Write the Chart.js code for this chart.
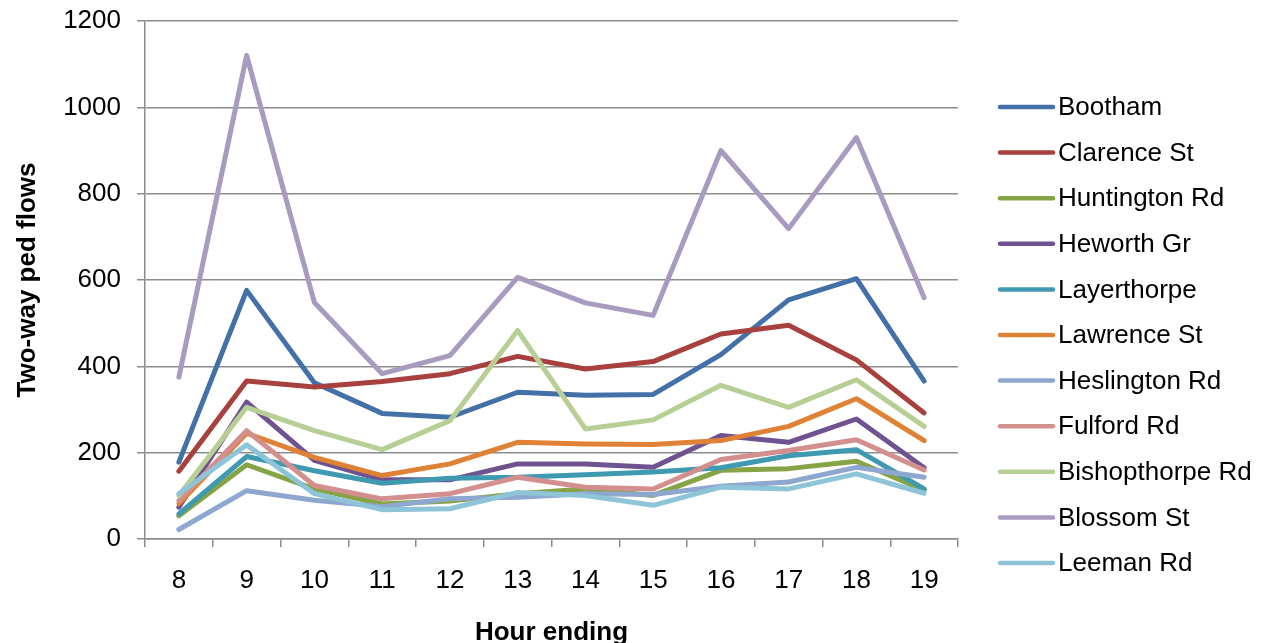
<!DOCTYPE html>
<html>
<head>
<meta charset="utf-8">
<script src="https://cdn.jsdelivr.net/npm/chart.js@4"></script>
<style>
  body { margin: 0; background: #fff; }
  #wrap { width: 1272px; height: 643px; position: relative; }
</style>
</head>
<body>
<div id="wrap"><canvas id="pedChart"></canvas></div>
<script>
// hour ending
const hours = ['8', '9', '10', '11', '12', '13', '14', '15', '16', '17', '18', '19'];

const bootham      = [178, 576, 362, 291, 282, 340, 333, 335, 427, 554, 603, 366];
const clarenceSt   = [157, 366, 352, 365, 383, 423, 394, 411, 475, 495, 415, 292];
const huntingtonRd = [54, 172, 116, 81, 88, 105, 116, 101, 159, 163, 180, 113];
const heworthGr    = [74, 317, 182, 137, 137, 174, 174, 166, 240, 224, 278, 165];
const layerthorpe  = [58, 191, 158, 129, 141, 143, 149, 155, 165, 193, 207, 116];
const lawrenceSt   = [82, 245, 189, 147, 174, 224, 220, 219, 228, 261, 325, 228];
const heslingtonRd = [22, 112, 90, 75, 93, 97, 105, 103, 122, 132, 166, 143];
const fulfordRd    = [89, 251, 124, 93, 105, 143, 120, 116, 184, 205, 230, 160];
const bishopthorpeRd = [101, 305, 251, 207, 274, 483, 255, 276, 356, 305, 369, 261];
const blossomSt    = [375, 1120, 548, 383, 425, 606, 547, 518, 900, 719, 930, 559];
const leemanRd     = [105, 218, 105, 68, 70, 108, 101, 78, 120, 116, 151, 106];

const seriesNames = ['Bootham', 'Clarence St', 'Huntington Rd', 'Heworth Gr', 'Layerthorpe',
  'Lawrence St', 'Heslington Rd', 'Fulford Rd', 'Bishopthorpe Rd', 'Blossom St', 'Leeman Rd'];
const seriesValues = [bootham, clarenceSt, huntingtonRd, heworthGr, layerthorpe,
  lawrenceSt, heslingtonRd, fulfordRd, bishopthorpeRd, blossomSt, leemanRd];
const seriesColors = ['#4470A8', '#A8403E', '#86A346', '#6F5391', '#3F99B1',
  '#E08235', '#8EA7CF', '#D38F8D', '#B7CF95', '#A79BBF', '#8EC4D8'];

const yTicks = [0, 200, 400, 600, 800, 1000, 1200];

const FONT = "'Liberation Sans', Arial, sans-serif";
const FSIZE = 26;

const datasets = seriesNames.map((name, i) => ({
  label: name,
  data: seriesValues[i],
  borderColor: seriesColors[i],
  backgroundColor: seriesColors[i],
  borderWidth: 5,
  pointRadius: 0,
  tension: 0,
  borderCapStyle: 'round',
  borderJoinStyle: 'round',
  order: seriesNames.length - i
}));

// legend drawn by hand so the plot keeps its width
const sideLegend = {
  id: 'sideLegend',
  afterDraw(chart) {
    const ctx = chart.ctx;
    ctx.save();
    ctx.font = FSIZE + 'px ' + FONT;
    ctx.textBaseline = 'middle';
    ctx.lineCap = 'round';
    seriesNames.forEach((name, i) => {
      const y = 107 + i * 45.6;
      ctx.strokeStyle = seriesColors[i];
      ctx.lineWidth = 4.5;
      ctx.beginPath();
      ctx.moveTo(1000, y);
      ctx.lineTo(1053, y);
      ctx.stroke();
      ctx.fillStyle = '#000';
      ctx.fillText(name, 1058, y + 1);
    });
    ctx.restore();
  }
};

const ctx = document.getElementById('pedChart').getContext('2d');
const pedChart = new Chart(ctx, {
  type: 'line',
  data: { labels: hours, datasets: datasets },
  plugins: [sideLegend],
  options: {
    responsive: true,
    maintainAspectRatio: false,
    animation: false,
    layout: { padding: { top: 21, right: 314, left: 0, bottom: -5 } },
    plugins: {
      legend: { display: false },
      tooltip: { enabled: false }
    },
    scales: {
      x: {
        offset: true,
        afterFit(axis) { axis.height = 109; },
        grid: {
          offset: true,
          drawOnChartArea: false,
          drawTicks: true,
          tickLength: 8,
          color: '#8c8c8c',
          lineWidth: 1.5
        },
        border: { color: '#8c8c8c', width: 1.5 },
        ticks: { color: '#000', font: { family: FONT, size: FSIZE }, padding: 18, maxRotation: 0 },
        title: {
          display: true,
          text: 'Hour ending',
          color: '#000',
          font: { family: FONT, size: FSIZE, weight: 'bold' },
          padding: { top: 0, bottom: 0 }
        }
      },
      y: {
        min: 0,
        max: 1200,
        afterFit(axis) {
          axis.width = 145;
          axis.paddingTop = 0;
          axis.paddingBottom = 0;
        },
        afterBuildTicks(axis) {
          axis.ticks = yTicks.map(v => ({ value: v }));
        },
        grid: {
          color: '#8c8c8c',
          lineWidth: 1.5,
          tickLength: 8
        },
        border: { color: '#8c8c8c', width: 1.5 },
        ticks: {
          color: '#000',
          font: { family: FONT, size: FSIZE },
          padding: 16,
          callback: v => String(v)
        },
        title: {
          display: true,
          text: 'Two-way ped flows',
          color: '#000',
          font: { family: FONT, size: FSIZE, weight: 'bold' },
          padding: { top: 12, bottom: 0 }
        }
      }
    }
  }
});
</script>
</body>
</html>
